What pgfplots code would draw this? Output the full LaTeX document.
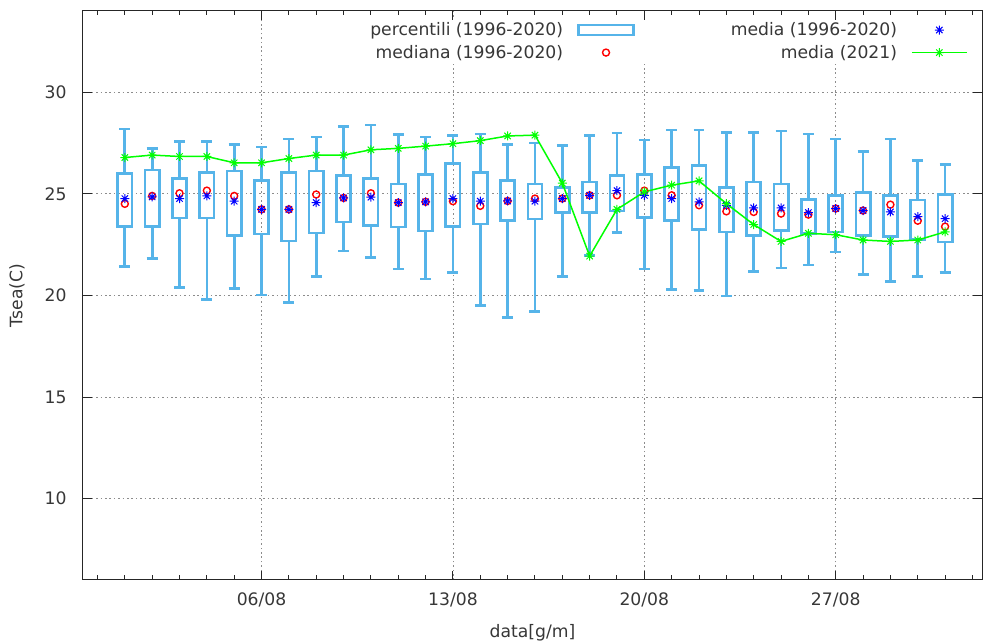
\documentclass[border=0pt]{standalone}
\usepackage{pgfplots}
\pgfplotsset{compat=1.18}
\usepgfplotslibrary{statistics}
\usepackage{pgfplotstable}
\usepackage{fontspec}
\setmainfont{DejaVu Sans}
\definecolor{boxblue}{RGB}{86,180,233}
\definecolor{txt}{RGB}{55,55,55}
\definecolor{grn}{RGB}{0,255,0}
\newcommand\fs{\fontsize{17.2}{20}\selectfont}
\pgfdeclareplotmark{gpstar}{%
  \pgfpathmoveto{\pgfqpoint{-\pgfplotmarksize}{0pt}}\pgfpathlineto{\pgfqpoint{\pgfplotmarksize}{0pt}}%
  \pgfpathmoveto{\pgfqpoint{0pt}{-\pgfplotmarksize}}\pgfpathlineto{\pgfqpoint{0pt}{\pgfplotmarksize}}%
  \pgfpathmoveto{\pgfqpoint{-.707\pgfplotmarksize}{-.707\pgfplotmarksize}}\pgfpathlineto{\pgfqpoint{.707\pgfplotmarksize}{.707\pgfplotmarksize}}%
  \pgfpathmoveto{\pgfqpoint{-.707\pgfplotmarksize}{.707\pgfplotmarksize}}\pgfpathlineto{\pgfqpoint{.707\pgfplotmarksize}{-.707\pgfplotmarksize}}%
  \pgfusepathqstroke}

% day, median, mean 1996-2020, mean 2021
\pgfplotstableread{
day med mean y21
1 24.51 24.77 26.79
2 24.90 24.85 26.91
3 25.03 24.77 26.84
4 25.16 24.90 26.84
5 24.90 24.64 26.53
6 24.24 24.24 26.53
7 24.24 24.24 26.74
8 24.97 24.57 26.91
9 24.80 24.80 26.91
10 25.03 24.84 27.17
11 24.57 24.57 27.24
12 24.61 24.61 27.35
13 24.64 24.77 27.47
14 24.41 24.64 27.62
15 24.65 24.65 27.85
16 24.77 24.64 27.89
17 24.77 24.77 25.53
18 24.93 24.93 21.94
19 24.93 25.16 24.24
20 25.16 24.93 25.10
21 24.93 24.77 25.43
22 24.44 24.61 25.64
23 24.14 24.44 24.52
24 24.11 24.31 23.49
25 24.03 24.31 22.66
26 23.98 24.08 23.06
27 24.28 24.28 22.99
28 24.18 24.18 22.73
29 24.47 24.11 22.66
30 23.68 23.88 22.73
31 23.39 23.78 23.13
}\data

\pgfplotsset{
  legend image code/.code={\draw[mark repeat=2,mark phase=2,#1] plot coordinates {(0pt,0pt)(27.5pt,0pt)(55pt,0pt)};},
  bx/.style n args={5}{forget plot, boxblue, line width=2.7pt,
    boxplot prepared={draw direction=y, draw position=#1, lower whisker=#5, lower quartile=#4, median=#4, upper quartile=#3, upper whisker=#2, box extend=0.52, whisker extend=0.4}},
  boxleg/.style={legend image code/.code={\draw[boxblue, line width=2.7pt] (0pt,-5pt) rectangle (55pt,5pt);}},
}

\begin{document}
\begin{tikzpicture}
\path[use as bounding box] (0,0) rectangle (983pt,644pt);
\begin{axis}[
  at={(83pt,64pt)}, anchor=south west,
  scale only axis, width=899pt, height=569pt,
  xmin=-0.53, xmax=32.35, ymin=6, ymax=34,
  xtick={6,13,20,27}, xticklabels={06/08,13/08,20/08,27/08},
  minor xtick={0,...,32},
  ytick={10,15,20,25,30},
  /pgf/number format/assume math mode=true,
  grid=major,
  major grid style={black!45, line width=0.8pt, dash pattern=on 1.6pt off 2.8pt},
  axis line style={black!85, line width=1pt},
  major tick length=9pt, minor tick length=4.5pt,
  every tick/.style={black!85, line width=1pt},
  tick label style={font=\fs, text=txt},
  xticklabel style={yshift=-9pt},
  yticklabel style={xshift=-13pt},
  every axis x label/.style={at={(axis description cs:0.5,0)}, yshift=-53pt, anchor=center, font=\fs, text=txt},
  every axis y label/.style={at={(axis description cs:0,0.5)}, xshift=-66pt, rotate=90, anchor=center, font=\fs, text=txt},
  xlabel={data[g/m]}, ylabel={Tsea(C)},
  legend style={at={(axis description cs:0.9853,0.985)}, anchor=north east, draw=none, fill=white,
    font=\fs, text=txt, inner sep=1pt, row sep=4pt,
    nodes={inner sep=2pt},
    /tikz/every odd column/.append style={column sep=12pt},
    /tikz/column 2/.append style={column sep=94pt}},
  legend columns=2, legend plot pos=right, legend cell align=right,
  boxplot/draw/median/.code={},
]
\addlegendimage{boxleg}
\addlegendentry{percentili (1996-2020)}
\addlegendimage{only marks, blue, mark=gpstar, mark size=4.5pt, line width=1pt}
\addlegendentry{media (1996-2020)}
\addlegendimage{only marks, red, mark=o, mark size=3.5pt, line width=1.4pt}
\addlegendentry{mediana (1996-2020)}
\addlegendimage{grn, line width=1.5pt, mark=gpstar, mark size=4.5pt, mark options={line width=1pt}}
\addlegendentry{media (2021)}

% boxes: day, upper whisker, upper quartile, lower quartile, lower whisker
\addplot[bx={1}{28.19}{25.99}{23.40}{21.43}] coordinates {};
\addplot[bx={2}{27.24}{26.17}{23.40}{21.81}] coordinates {};
\addplot[bx={3}{27.57}{25.76}{23.82}{20.41}] coordinates {};
\addplot[bx={4}{27.57}{26.05}{23.82}{19.80}] coordinates {};
\addplot[bx={5}{27.43}{26.12}{22.96}{20.36}] coordinates {};
\addplot[bx={6}{27.30}{25.67}{23.03}{20.03}] coordinates {};
\addplot[bx={7}{27.70}{26.05}{22.68}{19.64}] coordinates {};
\addplot[bx={8}{27.80}{26.12}{23.08}{20.92}] coordinates {};
\addplot[bx={9}{28.32}{25.92}{23.62}{22.19}] coordinates {};
\addplot[bx={10}{28.39}{25.76}{23.45}{21.88}] coordinates {};
\addplot[bx={11}{27.93}{25.48}{23.37}{21.30}] coordinates {};
\addplot[bx={12}{27.80}{25.97}{23.17}{20.81}] coordinates {};
\addplot[bx={13}{27.89}{26.50}{23.40}{21.12}] coordinates {};
\addplot[bx={14}{27.94}{26.05}{23.52}{19.52}] coordinates {};
\addplot[bx={15}{27.43}{25.67}{23.68}{18.91}] coordinates {};
\addplot[bx={16}{27.50}{25.48}{23.77}{19.21}] coordinates {};
\addplot[bx={17}{27.37}{25.31}{24.08}{20.92}] coordinates {};
\addplot[bx={18}{27.86}{25.59}{24.08}{21.97}] coordinates {};
\addplot[bx={19}{27.99}{25.90}{24.16}{23.09}] coordinates {};
\addplot[bx={20}{27.65}{25.94}{23.83}{21.30}] coordinates {};
\addplot[bx={21}{28.14}{26.30}{23.68}{20.30}] coordinates {};
\addplot[bx={22}{28.14}{26.41}{23.24}{20.23}] coordinates {};
\addplot[bx={23}{28.01}{25.31}{23.12}{19.97}] coordinates {};
\addplot[bx={24}{28.01}{25.59}{22.96}{21.18}] coordinates {};
\addplot[bx={25}{28.09}{25.48}{23.21}{21.36}] coordinates {};
\addplot[bx={26}{27.94}{24.72}{23.04}{21.50}] coordinates {};
\addplot[bx={27}{27.70}{24.92}{23.12}{22.14}] coordinates {};
\addplot[bx={28}{27.07}{25.08}{22.96}{21.05}] coordinates {};
\addplot[bx={29}{27.70}{24.92}{22.89}{20.69}] coordinates {};
\addplot[bx={30}{26.64}{24.70}{22.76}{20.92}] coordinates {};
\addplot[bx={31}{26.43}{24.97}{22.63}{21.12}] coordinates {};

\addplot[forget plot, only marks, red, mark=o, mark size=3.5pt, line width=1.4pt] table[x=day, y=med] {\data};
\addplot[forget plot, only marks, blue, mark=gpstar, mark size=4.5pt, line width=1pt] table[x=day, y=mean] {\data};
\addplot[forget plot, grn, line width=1.5pt, mark=gpstar, mark size=4.5pt, mark options={line width=1pt}] table[x=day, y=y21] {\data};
\end{axis}
\end{tikzpicture}
\end{document}
